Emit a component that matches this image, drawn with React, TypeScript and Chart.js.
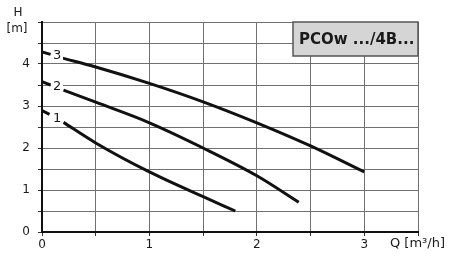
import React, { useEffect, useRef } from "react";
import { Chart, registerables } from "chart.js";

Chart.register(...registerables);

// Curve 3
const q3 = [0, 0.08, 0.13, 0.19, 0.5, 1, 1.5, 2, 2.5, 3];
const h3 = [4.29, 4.23, null, 4.14, 3.93, 3.54, 3.1, 2.6, 2.05, 1.43];
// Curve 2
const q2 = [0, 0.08, 0.13, 0.2, 0.5, 1, 1.5, 2, 2.39];
const h2 = [3.58, 3.5, null, 3.38, 3.09, 2.6, 2.0, 1.34, 0.71];
// Curve 1
const q1 = [0, 0.07, 0.13, 0.2, 0.5, 1, 1.5, 1.8];
const h1 = [2.89, 2.8, null, 2.61, 2.12, 1.43, 0.84, 0.5];

const curveNames = ["1", "2", "3"];
const curveLabelPos = [
  { q: 0.14, h: 2.7 },
  { q: 0.14, h: 3.45 },
  { q: 0.14, h: 4.2 },
];
const xTickValues = [0, 1, 2, 3];
const yTickValues = [0, 1, 2, 3, 4];
const boxTitle = "PCOw .../4B...";
const yTitle1 = "H";
const yTitle2 = "[m]";
const xTitle = "Q [m³/h]";

function toPts(q: number[], h: (number | null)[]) {
  return q.map((x, i) => ({ x, y: h[i] }));
}

const overlay = {
  id: "overlay",
  afterDatasetsDraw(chart: any) {
    const { ctx, scales, chartArea } = chart;
    const xs = scales.x;
    const ys = scales.y;
    ctx.save();
    // curve labels
    ctx.font = "13px 'DejaVu Sans', sans-serif";
    ctx.textAlign = "center";
    ctx.textBaseline = "middle";
    curveLabelPos.forEach((p, i) => {
      const px = xs.getPixelForValue(p.q);
      const py = ys.getPixelForValue(p.h);
      ctx.fillStyle = "#fff";
      ctx.fillRect(px - 6, py - 7, 12, 14);
      ctx.fillStyle = "#1a1a1a";
      ctx.fillText(curveNames[i], px, py);
    });
    // title box
    const bw = 125;
    const bh = 34;
    const bx1 = chartArea.right - bw;
    const by1 = chartArea.top;
    ctx.fillStyle = "#d5d5d5";
    ctx.fillRect(bx1, by1, bw, bh);
    ctx.strokeStyle = "#555";
    ctx.lineWidth = 1.5;
    ctx.strokeRect(bx1, by1, bw, bh);
    ctx.fillStyle = "#1a1a1a";
    ctx.font = "bold 15px 'DejaVu Sans', sans-serif";
    ctx.textAlign = "left";
    ctx.fillText(boxTitle, bx1 + 6, by1 + bh / 2 + 1);
    // axis titles
    ctx.font = "12px 'DejaVu Sans', sans-serif";
    ctx.textAlign = "center";
    ctx.fillText(yTitle1, 18, 13);
    ctx.fillText(yTitle2, 17, 29);
    ctx.textAlign = "right";
    ctx.font = "13px 'DejaVu Sans', sans-serif";
    ctx.fillText(xTitle, 445, 244);
    ctx.restore();
  },
};

export default function App() {
  const ref = useRef<HTMLCanvasElement>(null);
  useEffect(() => {
    if (!ref.current) return;
    const lineStyle = {
      borderColor: "#111",
      borderWidth: 3,
      pointRadius: 0,
      fill: false,
      spanGaps: false,
      cubicInterpolationMode: "monotone" as const,
    };
    const chart = new Chart(ref.current, {
      type: "line",
      data: {
        datasets: [
          { data: toPts(q3, h3), ...lineStyle },
          { data: toPts(q2, h2), ...lineStyle },
          { data: toPts(q1, h1), ...lineStyle },
        ] as any,
      },
      options: {
        animation: false,
        responsive: false,
        maintainAspectRatio: false,
        layout: { padding: { top: 22, right: 32, left: 0, bottom: 0 } },
        plugins: { legend: { display: false }, tooltip: { enabled: false } },
        scales: {
          x: {
            type: "linear",
            min: 0,
            max: 3.5,
            afterFit: (s: any) => {
              s.height = 29;
            },
            afterBuildTicks: (s: any) => {
              const t = [];
              for (let v = 0; v <= 3.5001; v += 0.5) t.push({ value: v });
              s.ticks = t;
            },
            ticks: {
              autoSkip: false,
              maxRotation: 0,
              padding: 2,
              color: "#1a1a1a",
              font: { size: 12, family: "'DejaVu Sans', sans-serif" },
              callback: (v: any) => (xTickValues.includes(Number(v)) ? String(v) : ""),
            },
            grid: { color: "#707070", lineWidth: 1, tickLength: 4, tickColor: "#333" },
            border: { color: "#111", width: 2 },
          },
          y: {
            type: "linear",
            min: 0,
            max: 5,
            afterFit: (s: any) => {
              s.width = 42;
            },
            afterBuildTicks: (s: any) => {
              const t = [];
              for (let v = 0; v <= 5.0001; v += 0.5) t.push({ value: v });
              s.ticks = t;
            },
            ticks: {
              autoSkip: false,
              padding: 8,
              color: "#1a1a1a",
              font: { size: 12, family: "'DejaVu Sans', sans-serif" },
              callback: (v: any) => (yTickValues.includes(Number(v)) ? String(v) : ""),
            },
            grid: { color: "#707070", lineWidth: 1, tickLength: 4, tickColor: "#333" },
            border: { color: "#111", width: 2 },
          },
        },
      },
      plugins: [overlay],
    });
    return () => chart.destroy();
  }, []);
  return (
    <div style={{ position: "fixed", left: 0, top: 0, width: 450, height: 261, background: "#fff" }}>
      <canvas ref={ref} width={450} height={261} style={{ width: 450, height: 261 }} />
    </div>
  );
}
